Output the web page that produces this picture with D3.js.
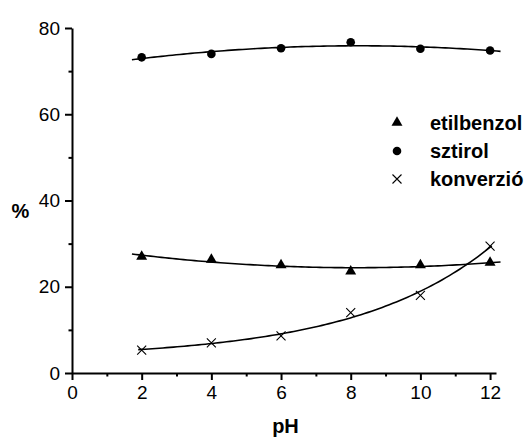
<!DOCTYPE html>
<html>
<head>
<meta charset="utf-8">
<script src="https://cdn.jsdelivr.net/npm/d3@7/dist/d3.min.js"></script>
<style>
  html, body { margin: 0; padding: 0; background: #fff; }
  svg { display: block; }
  text { font-family: Arial, "Liberation Sans", Helvetica, sans-serif; fill: #000; }
</style>
</head>
<body>
<svg id="chart" width="527" height="437"></svg>
<script>
// pH values of the measurements
const pH = [2, 4, 6, 8, 10, 12];
// product distribution and conversion, %
const etilbenzol = [27.0, 26.3, 25.0, 23.6, 25.0, 25.6];
const sztirol    = [73.2, 74.0, 75.3, 76.7, 75.2, 74.8];
const konverzio  = [5.3, 7.0, 8.6, 14.0, 18.0, 29.4];

const seriesNames = ["etilbenzol", "sztirol", "konverzió"];
const xTickLabels = [0, 2, 4, 6, 8, 10, 12];
const yTickLabels = [0, 20, 40, 60, 80];

const svg = d3.select("#chart");

const x = d3.scaleLinear().domain([0, 12.17]).range([72, 496]);
const y = d3.scaleLinear().domain([0, 80]).range([373, 28]);

// ---- least-squares fits -------------------------------------------------
function solve(A, b) {
  const n = b.length;
  const M = A.map((row, i) => row.concat([b[i]]));
  for (let c = 0; c < n; c++) {
    let p = c;
    for (let r = c + 1; r < n; r++) if (Math.abs(M[r][c]) > Math.abs(M[p][c])) p = r;
    [M[c], M[p]] = [M[p], M[c]];
    for (let r = 0; r < n; r++) {
      if (r === c) continue;
      const f = M[r][c] / M[c][c];
      for (let k = c; k <= n; k++) M[r][k] -= f * M[c][k];
    }
  }
  return M.map((row, i) => row[n] / row[i]);
}
function polyFit(xs, ys, deg) {
  const n = deg + 1;
  const A = Array.from({length: n}, (_, i) =>
    Array.from({length: n}, (_, j) => d3.sum(xs, v => Math.pow(v, i + j))));
  const b = Array.from({length: n}, (_, i) => d3.sum(xs, (v, k) => ys[k] * Math.pow(v, i)));
  const c = solve(A, b);
  return v => c.reduce((s, ci, i) => s + ci * Math.pow(v, i), 0);
}
// y = y0 + A * exp(x / t), t found by a scan, y0 and A by linear least squares
function expFit(xs, ys) {
  let best = null;
  for (let t = 1; t <= 20; t += 0.01) {
    const e = xs.map(v => Math.exp(v / t));
    const c = solve([[xs.length, d3.sum(e)], [d3.sum(e), d3.sum(e, v => v * v)]],
                    [d3.sum(ys), d3.sum(e, (v, k) => v * ys[k])]);
    const err = d3.sum(xs, (v, k) => Math.pow(c[0] + c[1] * e[k] - ys[k], 2));
    if (!best || err < best.err) best = {err, t, c};
  }
  return v => best.c[0] + best.c[1] * Math.exp(v / best.t);
}

const fitEtil = polyFit(pH, etilbenzol, 2);
const fitSzt = polyFit(pH, sztirol, 2);
const fitKonv = expFit(pH, konverzio);

const line = d3.line().x(d => x(d[0])).y(d => y(d[1]));
function curvePoints(f, a, b) {
  return d3.range(0, 101).map(i => { const v = a + (b - a) * i / 100; return [v, f(v)]; });
}

const curves = svg.append("g").attr("fill", "none").attr("stroke", "#000").attr("stroke-width", 1.6);
curves.append("path").attr("d", line(curvePoints(fitSzt, 1.72, 12.3)));
curves.append("path").attr("d", line(curvePoints(fitEtil, 1.72, 12.3)));
curves.append("path").attr("d", line(curvePoints(fitKonv, 1.9, 12.05)));

// ---- markers ------------------------------------------------------------
const tri = d3.symbol().type(d3.symbolTriangle).size(52);
const crossPath = s => `M${-s},${-s}L${s},${s}M${-s},${s}L${s},${-s}`;

const marks = svg.append("g");
marks.selectAll(".tri").data(pH).join("path")
  .attr("transform", (d, i) => `translate(${x(d)},${y(etilbenzol[i])})`)
  .attr("d", tri).attr("fill", "#000");
marks.selectAll(".dot").data(pH).join("circle")
  .attr("cx", d => x(d)).attr("cy", (d, i) => y(sztirol[i]))
  .attr("r", 4.3).attr("fill", "#000");
marks.selectAll(".crs").data(pH).join("path")
  .attr("transform", (d, i) => `translate(${x(d)},${y(konverzio[i])})`)
  .attr("d", crossPath(4.5)).attr("stroke", "#000").attr("stroke-width", 1.1).attr("fill", "none");

// ---- axes ---------------------------------------------------------------
const xAxis = svg.append("g").attr("transform", `translate(0,${y(0)})`);
xAxis.append("g").call(d3.axisBottom(x).tickValues(d3.range(1, 12, 2)).tickSize(3.5).tickFormat(""))
  .call(g => g.select(".domain").remove());
xAxis.append("g").call(d3.axisBottom(x).tickValues(xTickLabels).tickSize(7).tickSizeOuter(0).tickPadding(6))
  .call(g => g.selectAll("text").attr("font-size", 19).attr("font-family", "Arial, 'Liberation Sans', sans-serif"));

const yAxis = svg.append("g").attr("transform", `translate(${x(0)},0)`);
yAxis.append("g").call(d3.axisLeft(y).tickValues([10, 30, 50, 70]).tickSize(3.5).tickFormat(""))
  .call(g => g.select(".domain").remove());
yAxis.append("g").call(d3.axisLeft(y).tickValues(yTickLabels).tickSize(7).tickSizeOuter(0).tickPadding(5))
  .call(g => g.selectAll("text").attr("font-size", 19).attr("font-family", "Arial, 'Liberation Sans', sans-serif"));

svg.selectAll(".domain, .tick line").attr("stroke", "#000").attr("stroke-width", 2);

// axis titles
svg.append("text").attr("x", 285.5).attr("y", 433).attr("text-anchor", "middle")
  .attr("font-size", 20).attr("font-weight", "bold").text("pH");
svg.append("text").attr("x", 20.5).attr("y", 218).attr("text-anchor", "middle")
  .attr("font-size", 20).attr("font-weight", "bold").text("%");

// ---- legend -------------------------------------------------------------
const legend = svg.append("g");
const legendY = [122.5, 151, 179];
const lg = legend.selectAll("g").data(seriesNames).join("g")
  .attr("transform", (d, i) => `translate(397,${legendY[i]})`);
lg.append("text").attr("x", 33).attr("dy", "0.35em")
  .attr("font-size", 20).attr("font-weight", "bold").text(d => d);
lg.filter((d, i) => i === 0).append("path").attr("d", tri).attr("fill", "#000");
lg.filter((d, i) => i === 1).append("circle").attr("r", 4.3).attr("fill", "#000");
lg.filter((d, i) => i === 2).append("path").attr("d", crossPath(4.5))
  .attr("stroke", "#000").attr("stroke-width", 1.1).attr("fill", "none");
</script>
</body>
</html>
